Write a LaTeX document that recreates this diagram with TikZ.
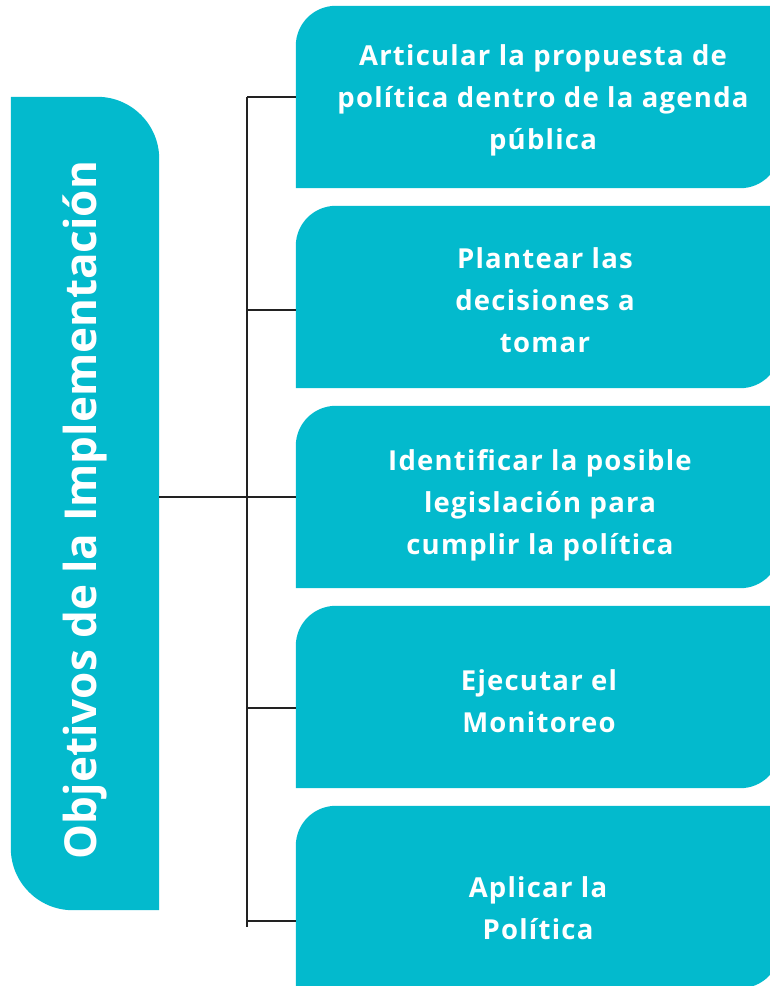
\documentclass[tikz,border=0pt]{standalone}
\usepackage{fontspec}
\setmainfont{Open Sans}
\newfontfamily\itemfont{Open Sans}[LetterSpace=4.5]
\usetikzlibrary{positioning,backgrounds}
\definecolor{tealbox}{RGB}{3,186,205}
\definecolor{linkgray}{RGB}{34,34,34}

\begin{document}
\begin{tikzpicture}[x=1pt, y=-1pt,
    itembox/.style={minimum width=484pt, minimum height=182pt, inner sep=0pt},
    itemtext/.style={align=center, text=white, inner sep=0pt, font=\itemfont\bfseries\fontsize{27.5}{42}\selectfont},
    sidebox/.style={minimum width=148pt, minimum height=813pt, inner sep=0pt},
    link/.style={draw=linkgray, line width=2pt}]
    \useasboundingbox (0,0) rectangle (770,986);
    \clip (0,0) rectangle (770,986);

    % Left title box
    \node[sidebox] (side) at (85,503.5) {};
    \node[rotate=90, text=white, font=\bfseries\fontsize{44}{50}\selectfont] (sidetitle) at (85,510) {Objetivos de la Implementación};

    % Five objectives on the right
    \node[itembox] (b1) at (538,97) {};
    \node[itembox] (b2) at (538,297) {};
    \node[itembox] (b3) at (538,497) {};
    \node[itembox] (b4) at (538,697) {};
    \node[itembox] (b5) at (538,897) {};
    \node[itemtext] (t1) at (543,100) {Articular la propuesta de\\política dentro de la agenda\\pública};
    \node[itemtext] (t2) at (545,300) {Plantear las\\decisiones a\\tomar};
    \node[itemtext] (t3) at (540,505) {Identificar la posible\\legislación para\\cumplir la política};
    \node[itemtext] (t4) at (539,701) {Ejecutar el\\Monitoreo};
    \node[itemtext] (t5) at (538,908) {Aplicar la\\Política};

    % Box shapes
    \begin{scope}[on background layer]
        \fill[tealbox] (side.north west) [rounded corners=62pt] -- (side.north east) [sharp corners] -- (side.south east) [rounded corners=62pt] -- (side.south west) [sharp corners] -- cycle;
        \foreach \b in {b1,b2,b3,b4,b5}
            \fill[tealbox] (\b.south west) [rounded corners=40pt] -- (\b.north west) [sharp corners] -- (\b.north east) [rounded corners=40pt] -- (\b.south east) [sharp corners] -- cycle;
    \end{scope}

    % Connectors
    \coordinate (top) at (247,97);
    \coordinate (bot) at (247,927);
    \coordinate (j2) at ([yshift=-13pt]b2.west);
    \coordinate (j4) at ([yshift=-11pt]b4.west);
    \coordinate (j5) at ([yshift=-24pt]b5.west);
    \draw[link] (top) -- (bot);
    \draw[link] (top) -- (b1.west);
    \draw[link] (j2 -| top) -- (j2);
    \draw[link] (side.east |- b3.west) -- (b3.west);
    \draw[link] (j4 -| top) -- (j4);
    \draw[link] (j5 -| top) -- (j5);
\end{tikzpicture}
\end{document}
